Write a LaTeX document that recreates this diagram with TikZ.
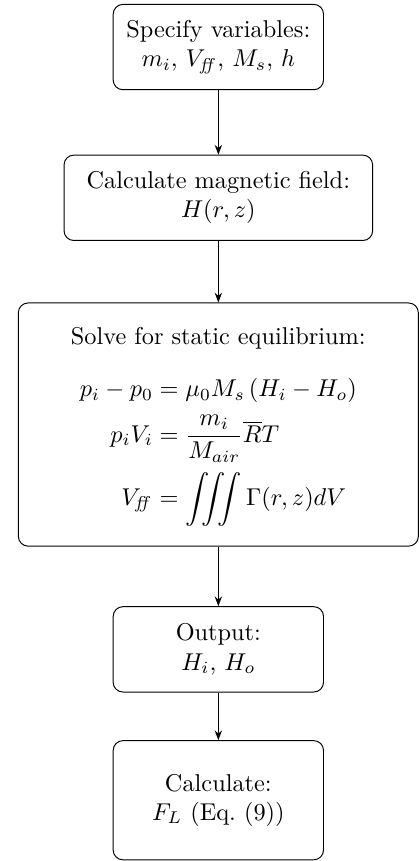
\documentclass[tikz,border=0pt]{standalone}
\usepackage{amsmath,amssymb}
\usetikzlibrary{arrows.meta,calc,positioning}

\begin{document}
\begin{tikzpicture}[
  node distance=25pt,
  box/.style={draw, rounded corners=4pt, align=center, inner sep=3pt,
              minimum width=86.5pt, minimum height=35.1pt},
  arr/.style={-{Stealth[length=4pt,width=3pt]}}]
\node[box] (spec) {Specify variables:\\ $m_i$, $V_{\mathit{ff}}$, $M_s$, $h$};
\node[box, below=26.5pt of spec, minimum width=126.9pt] (field)
  {Calculate magnetic field:\\ $H(r,z)$};
\node[box, below=25.3pt of field, minimum width=164.5pt, minimum height=100pt] (equil)
  {\rule{0pt}{9pt}Solve for static equilibrium:\\[10pt]
   $\begin{aligned}
     p_i-p_0 &= \mu_0 M_s\left(H_i-H_o\right)\\
     p_iV_i &= \frac{m_i}{M_{air}}\overline{R}T\\
     V_{\mathit{ff}} &= \iiint \Gamma(r,z)dV
   \end{aligned}$};
\node[box, below=24.5pt of equil] (output) {Output:\\ $H_i$, $H_o$};
\node[box, below=19.6pt of output, minimum height=49pt] (force)
  {Calculate:\\ $F_L$ (Eq.~(9))};
\foreach \a/\b in {spec/field, field/equil, equil/output, output/force}
  \draw[arr] (\a) -- (\b);
% crop as in the figure
\pgfresetboundingbox
\path[use as bounding box] ($(spec.north)+(-89.8pt,1.6pt)$)
  rectangle ($(force.south)+(82.4pt,-0.3pt)$);
\end{tikzpicture}
\end{document}
